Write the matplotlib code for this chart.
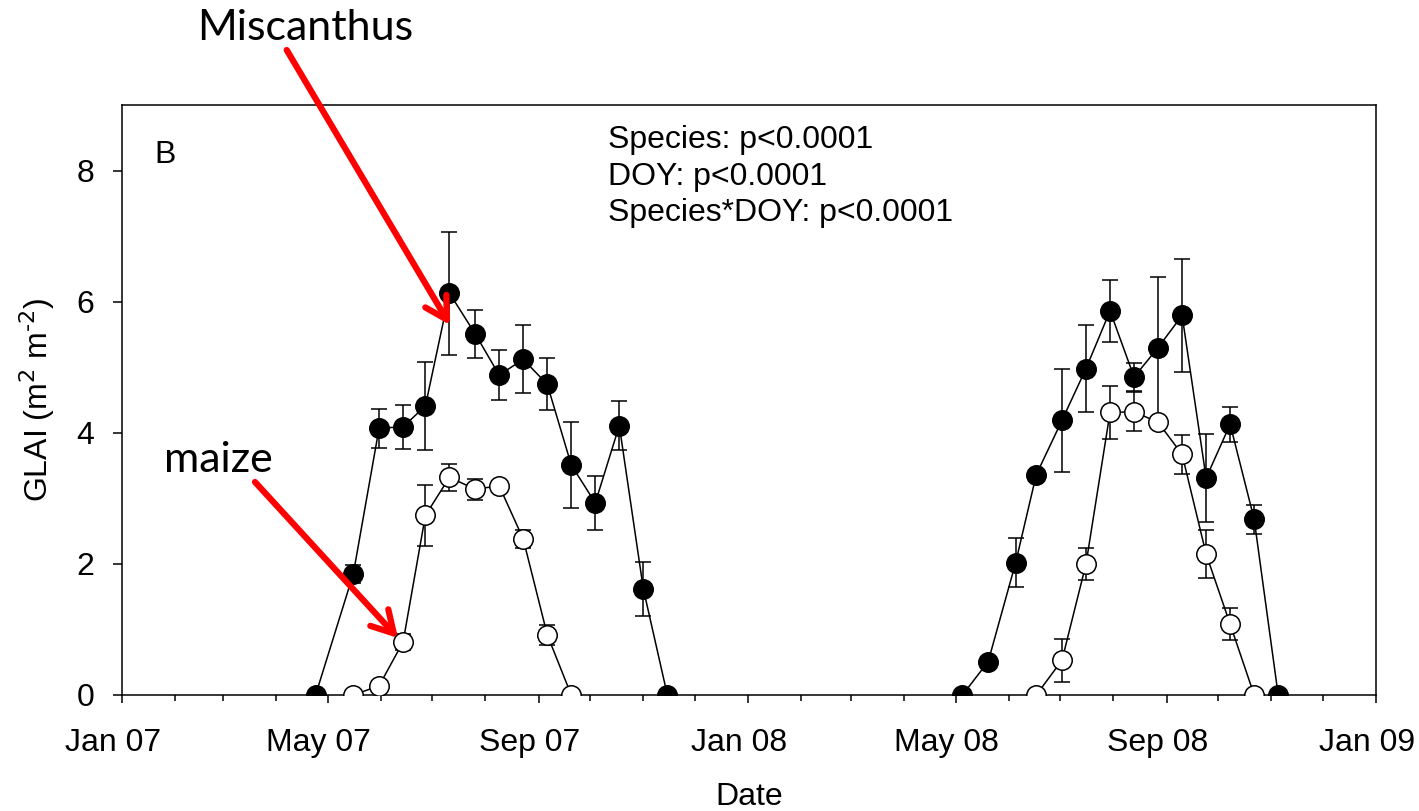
import numpy as np
import matplotlib
matplotlib.use('Agg')
import matplotlib.pyplot as plt
import matplotlib.dates as mdates
import matplotlib.transforms as mtransforms
from matplotlib.patches import FancyArrowPatch

# Miscanthus (filled) and maize (open) green leaf area index
misc07_dates = ['2007-04-24', '2007-05-16', '2007-05-31', '2007-06-14', '2007-06-27',
                '2007-07-11', '2007-07-26', '2007-08-09', '2007-08-23', '2007-09-06',
                '2007-09-20', '2007-10-04', '2007-10-18', '2007-11-01', '2007-11-15']
misc07_glai = [0, 1.85, 4.07, 4.09, 4.41, 6.13, 5.51, 4.88, 5.12, 4.74, 3.51, 2.93, 4.11, 1.62, 0]
misc07_err = [0, 0.14, 0.30, 0.33, 0.67, 0.94, 0.37, 0.38, 0.52, 0.40, 0.66, 0.41, 0.37, 0.41, 0]

maize07_dates = ['2007-05-16', '2007-05-31', '2007-06-14', '2007-06-27', '2007-07-11',
                 '2007-07-26', '2007-08-09', '2007-08-23', '2007-09-06', '2007-09-20']
maize07_glai = [0, 0.14, 0.81, 2.74, 3.32, 3.14, 3.19, 2.38, 0.92, 0]
maize07_err = [0, 0, 0.12, 0.46, 0.21, 0.16, 0, 0.14, 0.15, 0]

misc08_dates = ['2008-05-05', '2008-05-20', '2008-06-05', '2008-06-17', '2008-07-02',
                '2008-07-16', '2008-07-30', '2008-08-13', '2008-08-27', '2008-09-10',
                '2008-09-24', '2008-10-08', '2008-10-22', '2008-11-05']
misc08_glai = [0, 0.51, 2.02, 3.36, 4.19, 4.98, 5.86, 4.85, 5.30, 5.79, 3.31, 4.13, 2.68, 0]
misc08_err = [0, 0, 0.38, 0, 0.79, 0.67, 0.47, 0.22, 1.08, 0.86, 0.67, 0.27, 0.22, 0]

maize08_dates = ['2008-06-17', '2008-07-02', '2008-07-16', '2008-07-30', '2008-08-13',
                 '2008-08-27', '2008-09-10', '2008-09-24', '2008-10-08', '2008-10-22']
maize08_glai = [0, 0.53, 2.00, 4.31, 4.32, 4.16, 3.67, 2.15, 1.08, 0]
maize08_err = [0, 0.33, 0.25, 0.40, 0.30, 0, 0.30, 0.37, 0.24, 0]

stats_lines = ['Species: p<0.0001', 'DOY: p<0.0001', 'Species*DOY: p<0.0001']

plt.rcParams['font.family'] = ['Liberation Sans', 'DejaVu Sans']

W, H = 1419, 811
fig = plt.figure(figsize=(W / 100, H / 100), dpi=100)
ax = fig.add_axes([121.7 / W, 1 - 695 / H, (1376 - 121.7) / W, (695 - 105) / H])


def draw(dates, vals, errs, face, z):
    d = np.array(dates, dtype='datetime64[D]')
    ax.errorbar(d, vals, yerr=errs, fmt='none', ecolor='black', elinewidth=1.1,
                capsize=6, capthick=1.1, zorder=z)
    ax.plot(d, vals, '-', color='black', lw=1.1, zorder=z + 0.1)
    ax.plot(d, vals, 'o', ms=14, mfc=face, mec='black', mew=1.1, zorder=z + 0.2)


draw(misc07_dates, misc07_glai, misc07_err, 'black', 2)
draw(misc08_dates, misc08_glai, misc08_err, 'black', 2)
draw(maize07_dates, maize07_glai, maize07_err, 'white', 3)
draw(maize08_dates, maize08_glai, maize08_err, 'white', 3)

ax.set_xlim(np.datetime64('2007-01-01'), np.datetime64('2009-01-01'))
ax.set_ylim(0, 9)
ax.set_yticks([0, 2, 4, 6, 8])
ax.xaxis.set_major_locator(mdates.MonthLocator(bymonth=[1, 5, 9]))
ax.xaxis.set_minor_locator(mdates.MonthLocator())
ax.xaxis.set_major_formatter(mdates.DateFormatter('%b %y'))

for s in ax.spines.values():
    s.set_linewidth(1.1)
ax.tick_params(axis='both', which='major', labelsize=23, width=1.1, direction='out')
ax.tick_params(axis='x', which='major', length=6, pad=18)
ax.tick_params(axis='x', which='minor', length=4, width=1.1, direction='out')
ax.tick_params(axis='y', which='major', length=6.5, pad=13)

# date labels sit a little left of their ticks in the original
shift = mtransforms.ScaledTranslation(-9 / 100, 0, fig.dpi_scale_trans)
for lab in ax.get_xticklabels():
    lab.set_transform(lab.get_transform() + shift)

ax.set_xlabel('Date', fontsize=23, va='center')
ax.xaxis.set_label_coords(0.5, -102 / 590)
ax.set_ylabel('GLAI (m$^2$ m$^{\\text{-}2}$)', fontsize=23, labelpad=14)

fig.text(165 / W, 1 - 155 / H, 'B', fontsize=23, va='center', ha='center')
for i, line in enumerate(stats_lines):
    fig.text(608 / W, 1 - (140 + 36.5 * i) / H, line, fontsize=23, va='center', ha='left')

# red call-out arrows
arrow = dict(arrowstyle='->,head_length=0.7,head_width=0.4', color='red', lw=4.5,
             shrinkA=0, shrinkB=0, mutation_scale=22, transform=fig.transFigure, zorder=10)
fig.text(305 / W, 1 - 28 / H, 'Miscanthus', fontsize=31, family=['Lato', 'DejaVu Sans'],
         ha='center', va='center')
fig.text(218 / W, 1 - 460 / H, 'maize', fontsize=31, family=['Lato', 'DejaVu Sans'],
         ha='center', va='center')
fig.add_artist(FancyArrowPatch((286.7 / W, 1 - 50 / H), (450 / W, 1 - 325 / H), **arrow))
fig.add_artist(FancyArrowPatch((255 / W, 1 - 482 / H), (398 / W, 1 - 638 / H), **arrow))

fig.savefig('out.png', dpi=100)
